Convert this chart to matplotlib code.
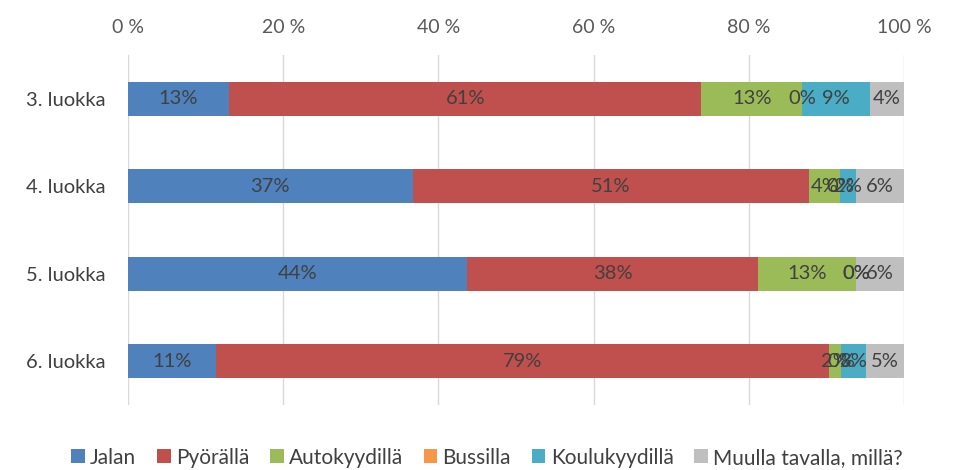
import numpy as np
import matplotlib
matplotlib.use("Agg")
from matplotlib import pyplot as plt

plt.rcParams['font.family'] = ['Lato', 'DejaVu Sans']

# Data (share of pupils, %)
categories = ["3. luokka", "4. luokka", "5. luokka", "6. luokka"]
series_names = ["Jalan", "Pyörällä", "Autokyydillä", "Bussilla", "Koulukyydillä", "Muulla tavalla, millä?"]
jalan = [13.0, 36.7, 43.7, 11.3]
pyoralla = [60.9, 51.0, 37.5, 79.0]
autokyydilla = [13.0, 4.1, 12.6, 1.6]
bussilla = [0.0, 0.0, 0.0, 0.0]
koulukyydilla = [8.7, 2.0, 0.0, 3.2]
muulla = [4.4, 6.2, 6.2, 4.9]
tick_values = [0, 20, 40, 60, 80, 100]

colors = ["#4F81BD", "#C0504D", "#9BBB59", "#F79646", "#4BACC6", "#BFBFBF"]

fig = plt.figure(figsize=(9.55, 4.7), dpi=100)
ax = fig.add_axes([0.134, 0.138, 0.8126, 0.745])

series = [jalan, pyoralla, autokyydilla, bussilla, koulukyydilla, muulla]
y = np.arange(len(categories))
left = np.zeros(len(categories))
for name, vals, col in zip(series_names, series, colors):
    vals = np.array(vals)
    ax.barh(y, vals, left=left, height=0.39, color=col, label=name, zorder=3)
    for yi, l, v in zip(y, left, vals):
        ax.text(l + v / 2, yi, f"{v:.0f}%", ha='center', va='center',
                fontsize=14.5, color='#404040', zorder=4)
    left += vals

ax.set_xlim(0, 100)
ax.set_ylim(len(categories) - 0.5, -0.5)
ax.set_yticks(y)
ax.set_yticklabels(categories, fontsize=14.5, color='#404040')
ax.set_xticks(tick_values)
ax.set_xticklabels([f"{t} %" for t in tick_values], fontsize=14, color='#595959')
ax.xaxis.tick_top()
ax.tick_params(axis='both', length=0)
ax.tick_params(axis='x', pad=14)
ax.tick_params(axis='y', pad=16)
ax.grid(axis='x', color='#D9D9D9', linewidth=1, zorder=0)
for s in ax.spines.values():
    s.set_visible(False)

leg = fig.legend(loc='lower center', bbox_to_anchor=(0.51, -0.035), ncol=6, frameon=False,
                 fontsize=15, handlelength=0.65, handleheight=0.65, handletextpad=0.25,
                 columnspacing=1.0)
for t in leg.get_texts():
    t.set_color('#404040')

fig.savefig("out.png", dpi=100)
